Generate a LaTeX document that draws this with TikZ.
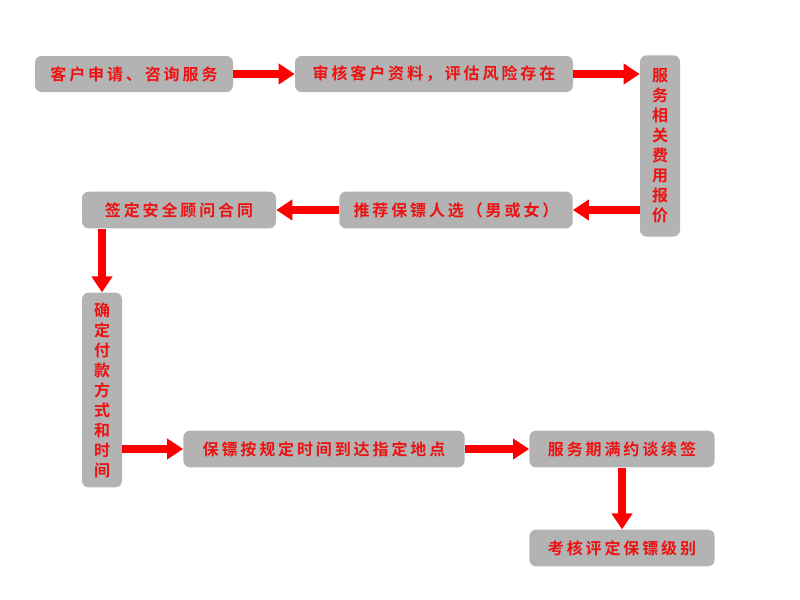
\documentclass[tikz,border=0pt]{standalone}
\usepackage{fontspec}
\newfontfamily\cjk{Noto Sans CJK SC}[BoldFont={Noto Sans CJK SC Bold},LetterSpace=18]
\usetikzlibrary{arrows.meta}
\definecolor{boxgray}{HTML}{B3B3B3}
\definecolor{txtred}{HTML}{EE1111}
\begin{document}
\begin{tikzpicture}[x=0.75pt,y=-0.75pt,
  hbox/.style={fill=boxgray,rounded corners=5pt,inner sep=0pt,font=\cjk\bfseries\fontsize{12}{15}\selectfont,text=txtred},
  vbox/.style={hbox,align=center},
  arr/.style={draw=red,line width=6pt,-{Triangle[length=12pt,width=15pt]}}]
\useasboundingbox (0,0) rectangle (800,600);
\node[hbox,minimum width=148.5pt,minimum height=27pt] (b1) at (134,74) {客户申请、咨询服务};
\node[hbox,minimum width=208.5pt,minimum height=27pt] (b2) at (434,74) {审核客户资料，评估风险存在};
\node[vbox,minimum width=30pt,minimum height=136pt] (b3) at (660,146) {服\\务\\相\\关\\费\\用\\报\\价};
\node[hbox,minimum width=175pt,minimum height=27.5pt] (b4) at (456,210) {推荐保镖人选（男或女）};
\node[hbox,minimum width=145.5pt,minimum height=27.5pt] (b5) at (179,210) {签定安全顾问合同};
\node[vbox,minimum width=30pt,minimum height=146pt] (b6) at (102,390) {确\\定\\付\\款\\方\\式\\和\\时\\间};
\node[hbox,minimum width=211pt,minimum height=27.5pt] (b7) at (324,449) {保镖按规定时间到达指定地点};
\node[hbox,minimum width=139pt,minimum height=27.5pt] (b8) at (622,449) {服务期满约谈续签};
\node[hbox,minimum width=139pt,minimum height=27.5pt] (b9) at (622,548) {考核评定保镖级别};
\draw[arr] (b1.east) -- (b2.west);
\draw[arr] (b2.east) -- (b2.east -| b3.west);
\draw[arr] (b3.west |- b4.east) -- (b4.east);
\draw[arr] (b4.west) -- (b5.east);
\draw[arr] (b5.south -| b6.north) -- (b6.north);
\draw[arr] (b6.east |- b7.west) -- (b7.west);
\draw[arr] (b7.east) -- (b8.west);
\draw[arr] (b8.south) -- (b9.north);
\end{tikzpicture}
\end{document}
